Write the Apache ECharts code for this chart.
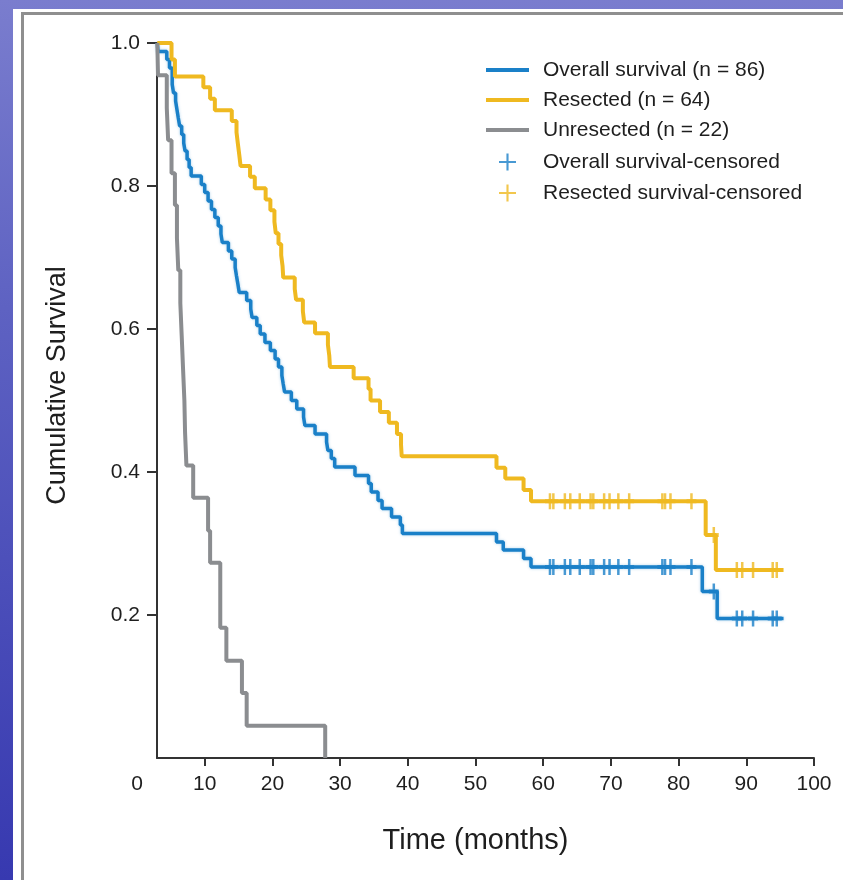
<!DOCTYPE html>
<html>
<head>
<meta charset="utf-8">
<script src="https://cdn.jsdelivr.net/npm/echarts@6/dist/echarts.min.js"></script>
<style>
  html, body { margin: 0; padding: 0; }
  body {
    width: 843px; height: 880px; overflow: hidden; position: relative;
    background: linear-gradient(180deg, #7a7dce 0%, #5e62c2 35%, #3739b0 100%);
  }
  #panel { position: absolute; left: 13px; top: 9px; right: 0; bottom: 0; background: #fff; }
  #frame { position: absolute; left: 21px; top: 12px; right: -10px; bottom: -10px;
           border-left: 3px solid #8f8f8f; border-top: 3px solid #8f8f8f; }
  #main { position: absolute; left: 0; top: 0; width: 843px; height: 880px; }
</style>
</head>
<body>
<div id="panel"></div>
<div id="frame"></div>
<div id="main"></div>
<script>
// Kaplan-Meier steps: [months, cumulative survival]
const overall = [
  [3, 1.0], [3.1, 0.988], [4.4, 0.977], [4.8, 0.965], [5.2, 0.942], [5.4, 0.930],
  [5.7, 0.919], [5.9, 0.907], [6.1, 0.895], [6.3, 0.884], [6.6, 0.872], [6.9, 0.860],
  [7.1, 0.849], [7.4, 0.837], [7.7, 0.826], [8.0, 0.814], [9.5, 0.802], [10.0, 0.791],
  [10.5, 0.779], [11.0, 0.767], [11.5, 0.756], [12.0, 0.744], [12.4, 0.733], [12.6, 0.721],
  [13.5, 0.709], [14.0, 0.698], [14.5, 0.686], [14.7, 0.674], [14.9, 0.663], [15.1, 0.651],
  [16.2, 0.640], [16.8, 0.628], [17.0, 0.616], [17.7, 0.605], [18.2, 0.593], [18.9, 0.581],
  [19.7, 0.570], [20.4, 0.558], [20.9, 0.547], [21.4, 0.535], [21.6, 0.523], [21.8, 0.512],
  [22.8, 0.500], [23.6, 0.488], [24.6, 0.477], [24.8, 0.465], [26.3, 0.453], [28.0, 0.442],
  [28.2, 0.430], [28.7, 0.419], [29.2, 0.407], [32.2, 0.395], [34.2, 0.384], [34.6, 0.372],
  [35.6, 0.360], [36.2, 0.349], [37.6, 0.337], [38.9, 0.326], [39.2, 0.314], [53.1, 0.302],
  [54.1, 0.291], [57.1, 0.279], [58.2, 0.267], [83.5, 0.233], [85.7, 0.195], [95.5, 0.195]
];
const resected = [
  [3, 1.0], [5.1, 0.977], [5.6, 0.953], [9.8, 0.938], [10.8, 0.922], [11.5, 0.906],
  [14.0, 0.891], [14.7, 0.875], [14.9, 0.859], [15.1, 0.844], [15.3, 0.828], [16.7, 0.813],
  [17.4, 0.797], [19.0, 0.781], [19.7, 0.766], [20.3, 0.750], [20.5, 0.734], [20.9, 0.719],
  [21.3, 0.703], [21.5, 0.688], [21.6, 0.672], [23.3, 0.656], [23.5, 0.641], [24.5, 0.625],
  [24.7, 0.609], [26.3, 0.594], [28.2, 0.578], [28.4, 0.563], [28.5, 0.547], [32.0, 0.531],
  [34.2, 0.516], [34.5, 0.500], [35.9, 0.484], [37.2, 0.469], [38.4, 0.453], [39.0, 0.438],
  [39.1, 0.422], [53.1, 0.406], [54.4, 0.391], [57.1, 0.375], [58.2, 0.359], [84.0, 0.312],
  [85.5, 0.263], [95.5, 0.263]
];
const unresected = [
  [3, 1.0], [3.1, 0.955], [4.4, 0.909], [4.6, 0.864], [5.1, 0.818], [5.6, 0.773],
  [5.9, 0.727], [6.1, 0.682], [6.4, 0.636], [6.6, 0.591], [6.8, 0.545], [7.0, 0.500],
  [7.1, 0.455], [7.3, 0.409], [8.3, 0.364], [10.5, 0.318], [10.8, 0.273], [12.3, 0.182],
  [13.2, 0.136], [15.5, 0.091], [16.2, 0.045], [27.8, 0.0]
];
// censored observations (tick marks on the curves)
const overallCensored = [
  [61.0, 0.267], [61.5, 0.267], [63.2, 0.267], [64.0, 0.267], [65.4, 0.267], [67.0, 0.267],
  [67.4, 0.267], [69.0, 0.267], [69.8, 0.267], [71.1, 0.267], [72.7, 0.267], [77.6, 0.267],
  [78.0, 0.267], [78.8, 0.267], [81.9, 0.267], [85.2, 0.233], [88.6, 0.195], [89.4, 0.195],
  [91.0, 0.195], [93.9, 0.195], [94.5, 0.195]
];
const resectedCensored = [
  [61.0, 0.359], [61.5, 0.359], [63.2, 0.359], [64.0, 0.359], [65.4, 0.359], [67.0, 0.359],
  [67.4, 0.359], [69.0, 0.359], [69.8, 0.359], [71.1, 0.359], [72.7, 0.359], [77.6, 0.359],
  [78.0, 0.359], [78.8, 0.359], [81.9, 0.359], [85.2, 0.312], [88.6, 0.263], [89.4, 0.263],
  [91.0, 0.263], [93.9, 0.263], [94.5, 0.263]
];
const xTicks = [10, 20, 30, 40, 50, 60, 70, 80, 90, 100];
const yTicks = [0.2, 0.4, 0.6, 0.8, 1.0];

const BLUE = '#1a80c8';
const GOLD = '#efb920';
const GRAY = '#8b8d90';
const INK = '#1e1e1e';
const FONT = '"Liberation Sans", Arial, sans-serif';
const PLUS = 'path://M6,0h4v6h6v4h-6v6h-4v-6h-6v-4h6z';
const LEGEND_PLUS = 'path://M7,0h2v7h7v2h-7v7h-2v-7h-7v-2h7z';

let chartDom = document.getElementById('main');
let myChart = echarts.init(chartDom);

const option = {
  animation: false,
  textStyle: { fontFamily: FONT, color: INK },
  grid: [
    { left: 137, right: 29, top: 43, bottom: 122 },
    { left: 157, right: 29, top: 43, bottom: 122 }
  ],
  legend: [
    {
      orient: 'vertical', left: 486, top: 59, itemGap: 8, padding: 0,
      icon: 'rect', itemWidth: 43, itemHeight: 4,
      textStyle: { fontSize: 21, fontFamily: FONT, color: INK, lineHeight: 22, padding: [0, 0, 0, 9] },
      data: ['Overall survival (n = 86)', 'Resected (n = 64)', 'Unresected (n = 22)']
    },
    {
      orient: 'vertical', left: 499, top: 151, itemGap: 9, padding: 0,
      icon: LEGEND_PLUS, itemWidth: 17, itemHeight: 17,
      textStyle: { fontSize: 21, fontFamily: FONT, color: INK, lineHeight: 22, padding: [0, 0, 0, 22] },
      data: ['Overall survival-censored', 'Resected survival-censored']
    }
  ],
  xAxis: [
    {
      gridIndex: 0, type: 'value', min: 0, max: 100, interval: 10,
      axisLine: { show: false },
      axisTick: { show: true, customValues: xTicks, length: 8, lineStyle: { color: '#333', width: 2 } },
      axisLabel: { fontSize: 21, color: INK, margin: 16 },
      splitLine: { show: false },
      name: 'Time (months)', nameLocation: 'middle', nameGap: 68,
      nameTextStyle: { fontSize: 29, color: INK }
    },
    {
      gridIndex: 1, type: 'value', min: 3, max: 100,
      axisLine: { show: true, lineStyle: { color: '#333', width: 2 } },
      axisTick: { show: false }, axisLabel: { show: false }, splitLine: { show: false }
    }
  ],
  yAxis: [
    { gridIndex: 0, type: 'value', min: 0, max: 1, show: false },
    {
      gridIndex: 1, type: 'value', min: 0, max: 1, interval: 0.2,
      axisLine: { show: true, lineStyle: { color: '#333', width: 2 } },
      axisTick: { show: true, customValues: yTicks, length: 10, lineStyle: { color: '#333', width: 2 } },
      axisLabel: { fontSize: 21, color: INK, margin: 17, formatter: v => (v === 0 ? '' : v.toFixed(1)) },
      splitLine: { show: false },
      name: 'Cumulative Survival', nameLocation: 'middle', nameGap: 86, nameRotate: 90,
      nameTextStyle: { fontSize: 27, color: INK, padding: [0, 0, 0, 30] }
    }
  ],
  series: [
    {
      name: 'Overall survival (n = 86)', type: 'line', step: 'end', showSymbol: false,
      xAxisIndex: 0, yAxisIndex: 0, color: BLUE,
      lineStyle: { width: 3.5, color: BLUE, shadowColor: 'rgba(26,128,200,0.35)', shadowBlur: 3 },
      data: overall
    },
    {
      name: 'Resected (n = 64)', type: 'line', step: 'end', showSymbol: false,
      xAxisIndex: 0, yAxisIndex: 0, color: GOLD,
      lineStyle: { width: 4, color: GOLD },
      data: resected
    },
    {
      name: 'Unresected (n = 22)', type: 'line', step: 'end', showSymbol: false,
      xAxisIndex: 0, yAxisIndex: 0, color: GRAY,
      lineStyle: { width: 4, color: GRAY },
      data: unresected
    },
    {
      name: 'Overall survival-censored', type: 'scatter', symbol: PLUS, symbolSize: [10, 16],
      symbolKeepAspect: false, xAxisIndex: 0, yAxisIndex: 0,
      itemStyle: { color: BLUE }, data: overallCensored
    },
    {
      name: 'Resected survival-censored', type: 'scatter', symbol: PLUS, symbolSize: [10, 16],
      symbolKeepAspect: false, xAxisIndex: 0, yAxisIndex: 0,
      itemStyle: { color: GOLD }, data: resectedCensored
    }
  ]
};

myChart.setOption(option);
</script>
</body>
</html>
